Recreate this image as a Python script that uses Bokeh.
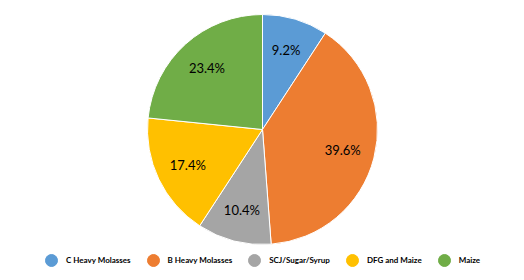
import math
from bokeh.plotting import figure
from bokeh.models import Range1d, Legend, LegendItem, ColumnDataSource
from bokeh.core.properties import value
from bokeh.embed import file_html
from bokeh.resources import INLINE

categories = ["C Heavy Molasses", "B Heavy Molasses", "SCJ/Sugar/Syrup", "DFG and Maize", "Maize"]
shares = [9.2, 39.6, 10.4, 17.4, 23.4]
labels = ["9.2%", "39.6%", "10.4%", "17.4%", "23.4%"]
colors = ["#5B9BD5", "#ED7D31", "#A5A5A5", "#FFC000", "#70AD47"]

W, H = 524, 280
cx, cy, R = 262, 151, 115
label_r = 0.72 * R

p = figure(width=W, height=H, x_range=Range1d(0, W), y_range=Range1d(0, H),
           output_backend="svg", toolbar_location=None,
           x_axis_location=None, y_axis_location=None,
           min_border=0, min_border_left=0, min_border_right=0,
           min_border_top=0, min_border_bottom=0)
p.grid.visible = False
p.outline_line_color = None
p.background_fill_color = "white"
p.border_fill_color = "white"

total = sum(shares)
starts, ends, lx, ly = [], [], [], []
cum = 0.0
for s in shares:
    a0 = math.pi / 2 - 2 * math.pi * cum / total
    a1 = math.pi / 2 - 2 * math.pi * (cum + s) / total
    mid = (a0 + a1) / 2
    starts.append(a0)
    ends.append(a1)
    lx.append(cx + label_r * math.cos(mid))
    ly.append(cy + label_r * math.sin(mid))
    cum += s

src = ColumnDataSource(dict(start=starts, end=ends, color=colors, lx=lx, ly=ly, label=labels))
p.wedge(x=cx, y=cy, radius=R, start_angle="start", end_angle="end", direction="clock",
        fill_color="color", line_color="white", line_width=1, source=src)

p.text(x="lx", y="ly", text="label", source=src, text_align="center", text_baseline="middle",
       text_font=value("Lato"), text_font_size="13px", text_color="#000000")

items = []
for cat, col in zip(categories, colors):
    r = p.scatter(x=[-1000], y=[-1000], marker="circle", size=11, fill_color=col, line_color=col)
    items.append(LegendItem(label=cat, renderers=[r]))

legend = Legend(items=items, orientation="horizontal", location=(36, 5),
                glyph_width=30, glyph_height=30, label_standoff=0, spacing=7,
                padding=0, margin=0, border_line_color=None, background_fill_alpha=0,
                label_text_font="Lato", label_text_font_size="8px", label_text_color="#000000",
                label_text_font_style="bold", label_height=30)
p.add_layout(legend, "center")

open("out.html", "w").write(file_html(p, INLINE))
